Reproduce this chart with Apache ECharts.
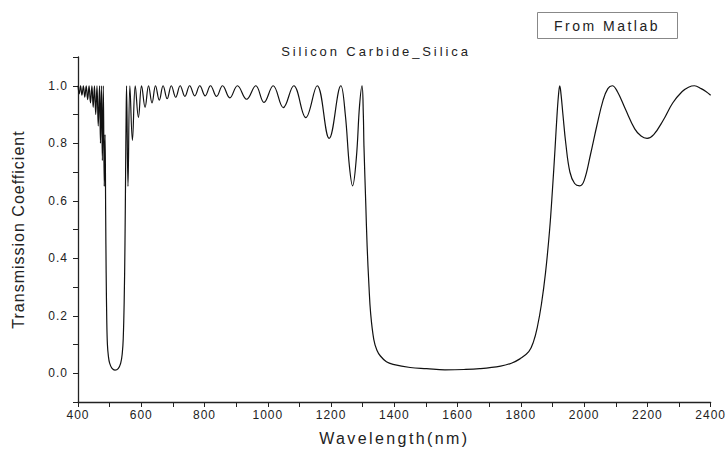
<!DOCTYPE html>
<html>
<head>
<meta charset="utf-8">
<script src="https://cdn.jsdelivr.net/npm/echarts@6/dist/echarts.min.js"></script>
<style>
html,body{margin:0;padding:0;background:#fff;}
#chart{width:727px;height:454px;}
</style>
</head>
<body>
<div id="chart"></div>
<script>
const titleText = 'Silicon Carbide_Silica';
const legendText = 'From Matlab';
const xName = 'Wavelength(nm)';
const yName = 'Transmission Coefficient';

const wavelength = [
400,404,408,412.5,417,421.5,426,430.5,435,439.5,444,448,452,456,460,464,468,471,474,477,480,483,485.5,487.5,489,491,493,496,500,507,517,527,535,540,543,546,548.5,550.5,552,553.5,
558,564,572,581,591,601,612,623,634,645,657,669,682,695,709,723,738,753,769,785,802,819,838,857,880,904,933,962,988,1017,1049,1082,1120,1156,1194,1231,1245,1258,1268,1280,1290,1298,
1302,1304,1310,1314,1320,1325,1335,1345,1356,1375,1396,1450,1502,1560,1620,1670,1736,1770,1797,1825,1840,1852,1865,1878,1891,1900,1908,1915,1920,1923,
1927,1933,1942,1955,1970,1986,2000,2020,2040,2060,2075,2089,2105,2130,2160,2180,2199,2220,2250,2280,2310,2330,2349,2370,2385,2400
];
const transmission = [
1.0,0.972,1.0,0.967,1.0,0.96,1.0,0.952,1.0,0.94,1.0,0.925,1.0,0.9,1.0,0.86,1.0,0.8,1.0,0.74,1.0,0.65,0.83,0.55,0.35,0.18,0.1,0.06,0.035,0.018,0.011,0.016,0.035,0.07,0.12,0.25,0.45,0.7,0.88,1.0,
0.65,1.0,0.81,1.0,0.89,1.0,0.925,1.0,0.94,1.0,0.95,1.0,0.955,1.0,0.96,1.0,0.963,1.0,0.965,1.0,0.965,1.0,0.963,1.0,0.958,1.0,0.953,1.0,0.942,1.0,0.924,1.0,0.889,1.0,0.817,1.0,0.9,0.72,0.652,0.75,0.93,1.0,
0.9,0.79,0.58,0.443,0.3,0.21,0.118,0.08,0.06,0.04,0.031,0.02,0.016,0.012,0.013,0.016,0.025,0.035,0.05,0.075,0.11,0.16,0.24,0.35,0.5,0.64,0.78,0.91,0.98,1.0,
0.97,0.9,0.8,0.7,0.66,0.652,0.67,0.76,0.86,0.95,0.99,1.0,0.98,0.92,0.85,0.825,0.817,0.83,0.88,0.94,0.98,0.995,1.0,0.99,0.98,0.967
];

const seriesData = wavelength.map((w, i) => [w, transmission[i]]);

const chart = echarts.init(document.getElementById('chart'), null, {renderer: 'svg'});
const textColor = '#222';
const axisColor = '#222';

chart.setOption({
  animation: false,
  backgroundColor: '#fff',
  title: {
    text: titleText,
    left: 371,
    top: 40,
    textAlign: 'center',
    textStyle: {fontFamily: 'Liberation Sans', fontSize: 13, fontWeight: 'normal', color: textColor}
  },
  graphic: [
    {type: 'rect', shape: {x: 537.5, y: 12.5, width: 140, height: 26}, style: {fill: '#fff', stroke: '#888', lineWidth: 1}},
    {type: 'text', x: 607, y: 25.5, style: {text: legendText, fontFamily: 'Liberation Sans', fontSize: 14, fill: textColor, align: 'center', verticalAlign: 'middle'}}
  ],
  grid: {left: 78, right: 16, top: 57, bottom: 52},
  xAxis: {
    type: 'value', min: 400, max: 2400, interval: 100,
    name: xName, nameLocation: 'middle', nameGap: 28,
    nameTextStyle: {fontFamily: 'Liberation Sans', fontSize: 16, color: textColor},
    axisLine: {show: true, onZero: false, lineStyle: {color: axisColor, width: 1.3}},
    axisTick: {show: true, length: 5, lineStyle: {color: axisColor}},
    axisLabel: {
      fontFamily: 'Liberation Sans', fontSize: 12, color: textColor, margin: 7,
      formatter: v => (Math.round(v) % 200 === 0 ? String(Math.round(v)) : '')
    },
    splitLine: {show: false}
  },
  yAxis: {
    type: 'value', min: -0.1, max: 1.1, interval: 0.1,
    name: yName, nameLocation: 'middle', nameGap: 52, nameRotate: 90,
    nameTextStyle: {fontFamily: 'Liberation Sans', fontSize: 16, color: textColor},
    axisLine: {show: true, onZero: false, lineStyle: {color: axisColor, width: 1.3}},
    axisTick: {show: true, length: 5, lineStyle: {color: axisColor}},
    axisLabel: {
      fontFamily: 'Liberation Sans', fontSize: 12, color: textColor, margin: 10,
      formatter: v => { const k = Math.round(v * 10); return (k % 2 === 0 && k >= 0 && k <= 10) ? (k / 10).toFixed(1) : ''; }
    },
    splitLine: {show: false}
  },
  series: [{
    name: legendText,
    type: 'line',
    data: seriesData,
    smooth: 0.4,
    showSymbol: false,
    lineStyle: {color: '#111', width: 1.2}
  }]
});

// letter spacing to mimic the original plot's wide text
const spacing = {};
spacing[titleText] = 2.9;
spacing[legendText] = 2.5;
spacing[xName] = 2.4;
spacing[yName] = 1;
document.querySelectorAll('#chart svg text').forEach(t => {
  const s = t.textContent;
  const ls = (s in spacing) ? spacing[s] : 1;
  t.style.letterSpacing = ls + 'px';
});
</script>
</body>
</html>
